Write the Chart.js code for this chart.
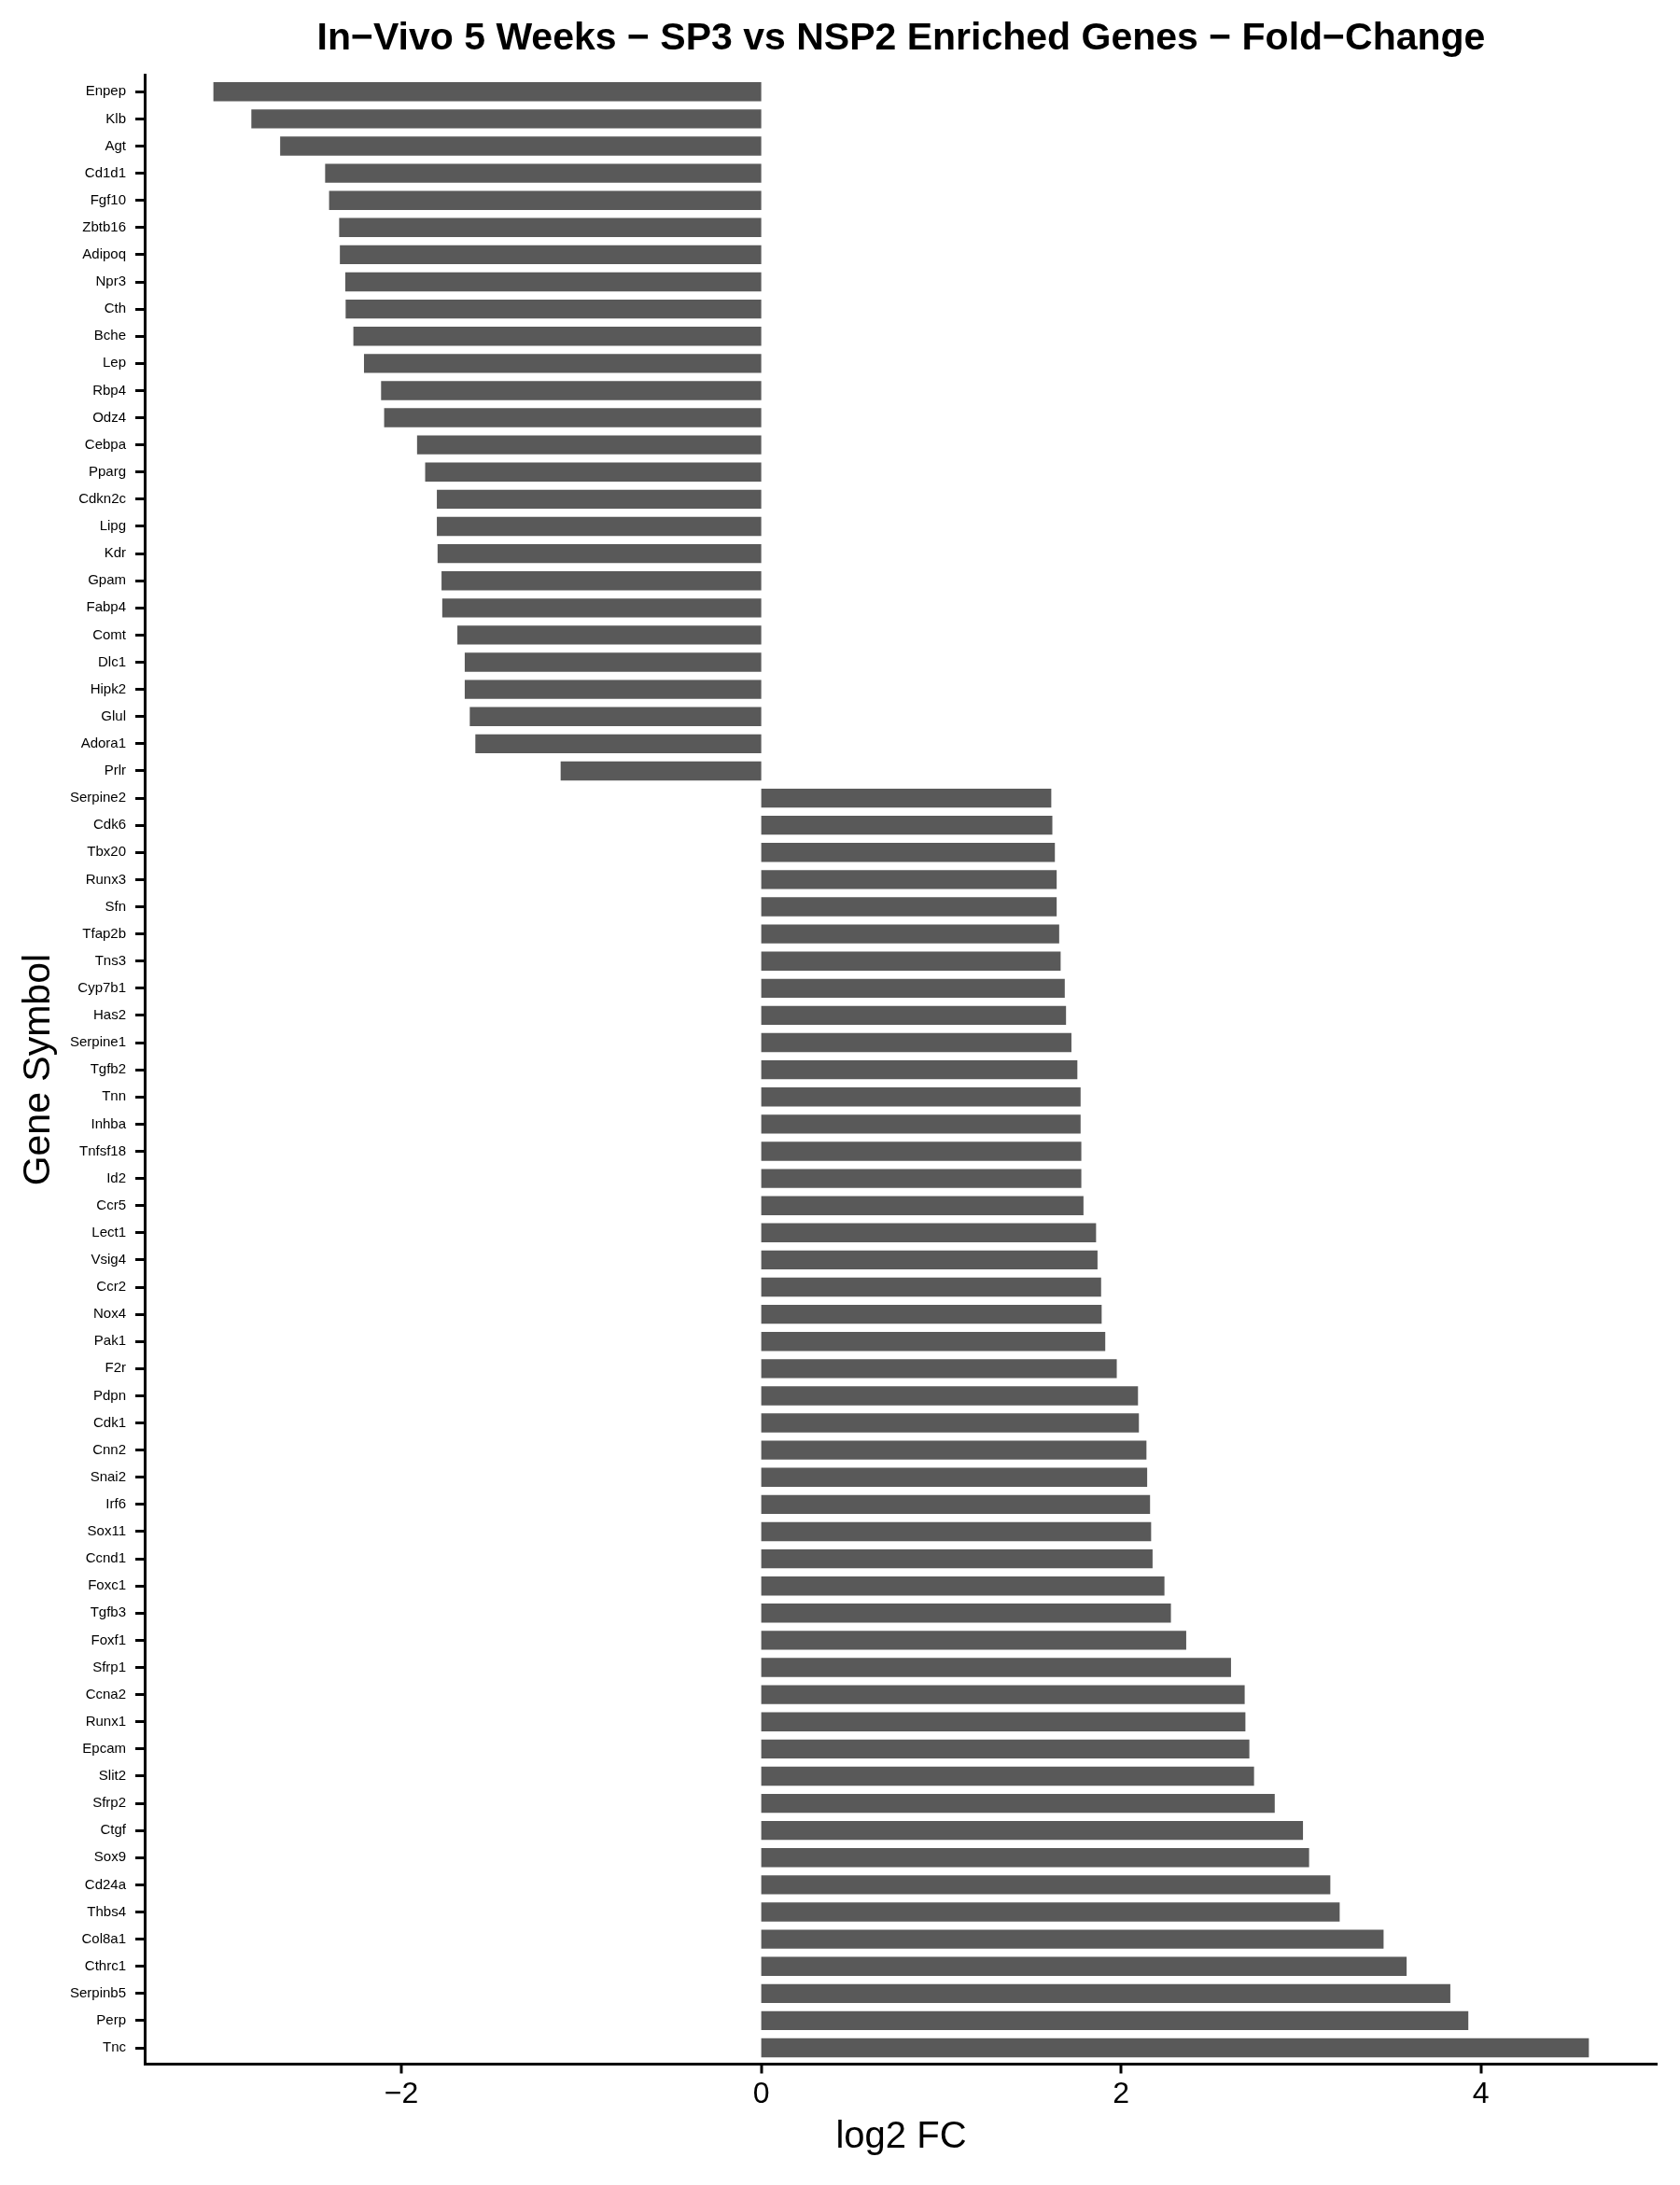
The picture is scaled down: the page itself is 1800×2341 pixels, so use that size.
<!DOCTYPE html>
<html>
<head>
<meta charset="utf-8">
<script src="https://cdn.jsdelivr.net/npm/chart.js@4.4.1/dist/chart.umd.min.js"></script>
<style>html,body{margin:0;padding:0;background:#ffffff;}canvas{display:block;}</style>
</head>
<body>
<canvas id="c" width="1800" height="2341" style="width:1800px;height:2341px"></canvas>
<script>
const genes = ['Enpep','Klb','Agt','Cd1d1','Fgf10','Zbtb16','Adipoq','Npr3','Cth','Bche','Lep','Rbp4','Odz4','Cebpa','Pparg','Cdkn2c','Lipg','Kdr','Gpam','Fabp4','Comt','Dlc1','Hipk2','Glul','Adora1','Prlr',
  'Serpine2','Cdk6','Tbx20','Runx3','Sfn','Tfap2b','Tns3','Cyp7b1','Has2','Serpine1','Tgfb2','Tnn','Inhba','Tnfsf18','Id2','Ccr5','Lect1','Vsig4','Ccr2','Nox4','Pak1','F2r','Pdpn','Cdk1','Cnn2','Snai2','Irf6','Sox11','Ccnd1','Foxc1','Tgfb3','Foxf1','Sfrp1','Ccna2','Runx1','Epcam','Slit2','Sfrp2','Ctgf','Sox9','Cd24a','Thbs4','Col8a1','Cthrc1','Serpinb5','Perp','Tnc'];
const log2FC = [-3.045,-2.834,-2.674,-2.424,-2.402,-2.346,-2.342,-2.312,-2.310,-2.267,-2.208,-2.113,-2.096,-1.913,-1.868,-1.803,-1.803,-1.799,-1.777,-1.773,-1.689,-1.648,-1.648,-1.620,-1.589,-1.115,
  1.612,1.618,1.632,1.642,1.642,1.656,1.664,1.687,1.694,1.724,1.757,1.775,1.775,1.779,1.779,1.791,1.861,1.869,1.889,1.892,1.912,1.976,2.094,2.099,2.141,2.145,2.161,2.167,2.175,2.241,2.277,2.362,2.611,2.687,2.691,2.713,2.739,2.854,3.011,3.045,3.163,3.215,3.459,3.587,3.830,3.930,4.600];
const xTickValues = [-2, 0, 2, 4];
const xTickLabels = ['\u22122', '0', '2', '4'];
const xMin = -3.427, xMax = 4.982;
const titleText = 'In\u2212Vivo 5 Weeks \u2212 SP3 vs NSP2 Enriched Genes \u2212 Fold\u2212Change';
const xTitle = 'log2 FC';
const yTitle = 'Gene Symbol';

const FAMILY = '"Liberation Sans", Arial, Helvetica, sans-serif';

new Chart(document.getElementById('c'), {
  type: 'bar',
  data: {
    labels: genes,
    datasets: [{
      data: log2FC,
      backgroundColor: '#595959',
      borderColor: '#3f3f3f',
      borderWidth: 0,
      barPercentage: 0.7,
      categoryPercentage: 1.0
    }]
  },
  options: {
    indexAxis: 'y',
    responsive: false,
    devicePixelRatio: 1,
    animation: false,
    layout: { padding: { top: 0, left: 0, right: 24, bottom: 0 } },
    plugins: {
      legend: { display: false },
      tooltip: { enabled: false },
      title: {
        display: true,
        text: titleText,
        fullSize: false,
        color: '#000',
        font: { family: FAMILY, size: 41, weight: 'bold' },
        padding: { top: 17.4, bottom: 14.2 }
      }
    },
    scales: {
      x: {
        type: 'linear',
        min: xMin,
        max: xMax,
        afterBuildTicks: s => { s.ticks = xTickValues.map(v => ({ value: v })); },
        ticks: {
          callback: (v, i) => xTickLabels[i],
          color: '#000',
          font: { family: FAMILY, size: 32 },
          padding: 3,
          maxRotation: 0,
          autoSkip: false
        },
        grid: { display: true, drawOnChartArea: false, drawTicks: true, tickLength: 10, tickWidth: 3, tickColor: '#000', color: '#000', lineWidth: 0 },
        border: { display: true, color: '#000', width: 3 },
        title: { display: true, text: xTitle, color: '#000', font: { family: FAMILY, size: 40 }, padding: { top: 0, bottom: 27 } },
        afterFit: s => { s.height = 129.5; }
      },
      y: {
        type: 'category',
        offset: true,
        ticks: { color: '#000', font: { family: FAMILY, size: 15 }, padding: 10, autoSkip: false },
        grid: { display: true, offset: false, drawOnChartArea: false, drawTicks: true, tickLength: 10, tickWidth: 3, tickColor: '#000', color: '#000', lineWidth: 3 },
        border: { display: true, color: '#000', width: 3 },
        title: { display: true, text: yTitle, color: '#000', font: { family: FAMILY, size: 41 }, padding: { top: 17.4, bottom: 0 } },
        afterFit: s => {
          s.width = 155;
          s._startValue = -0.6;
          s._valueRange = genes.length - 1 + 1.2;
        }
      }
    }
  }
});
</script>
</body>
</html>
